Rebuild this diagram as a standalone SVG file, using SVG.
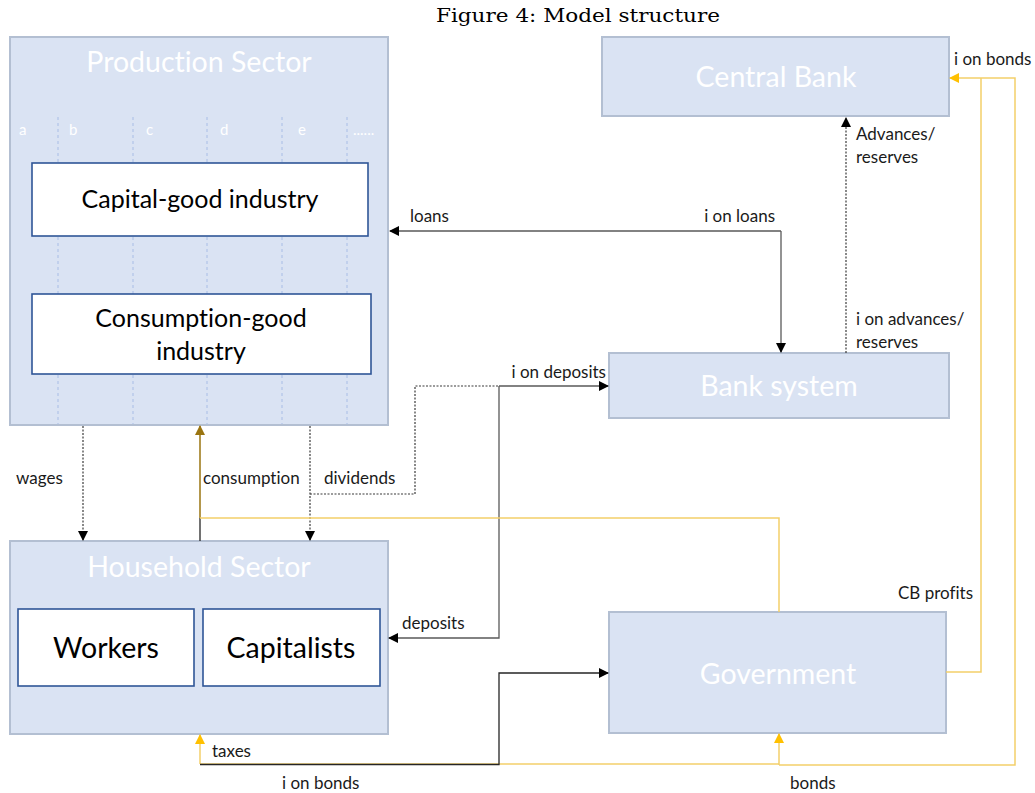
<svg xmlns="http://www.w3.org/2000/svg" width="1035" height="793" viewBox="0 0 1035 793">
  <defs>
    <style>
      text { font-variant-ligatures: none; }
      .sector { fill: #dae3f3; stroke: #b3bfd2; stroke-width: 2; }
      .inner { fill: #ffffff; stroke: #2f5597; stroke-width: 1.6; }
      .title { font-family: Lato, "Open Sans", sans-serif; fill: #ffffff; font-size: 28.5px; text-anchor: middle; }
      .col { font-family: Lato, "Open Sans", sans-serif; fill: #ffffff; font-size: 15px; }
      .colline { stroke: #a8bde6; stroke-width: 1; stroke-dasharray: 3 3; fill: none; }
      .big { font-family: Lato, "Open Sans", sans-serif; fill: #000000; font-size: 25px; text-anchor: middle; }
      .huge { font-family: Lato, "Open Sans", sans-serif; fill: #000000; font-size: 28.5px; text-anchor: middle; }
      .lbl { font-family: Lato, "Open Sans", sans-serif; fill: #1a1a1a; font-size: 17px; }
      .solid { fill: none; stroke: #595959; stroke-width: 1.3; }
      .dark { fill: none; stroke: #262626; stroke-width: 1.3; }
      .dot { fill: none; stroke: #3a3a3a; stroke-width: 1.2; stroke-dasharray: 2 1.5; }
      .gold { fill: none; stroke: #f3cf6a; stroke-width: 1.5; }
      .brown { fill: none; stroke: #9a7410; stroke-width: 1.5; }
    </style>
    <marker id="ah" viewBox="0 0 10 10" refX="9" refY="5" markerWidth="10" markerHeight="10" markerUnits="userSpaceOnUse" orient="auto">
      <path d="M0,0 L10,5 L0,10 z" fill="#000000"/>
    </marker>
    <marker id="ahGold" viewBox="0 0 10 10" refX="9" refY="5" markerWidth="10" markerHeight="10" markerUnits="userSpaceOnUse" orient="auto">
      <path d="M0,0 L10,5 L0,10 z" fill="#ffc000"/>
    </marker>
    <marker id="ahBrown" viewBox="0 0 10 10" refX="9" refY="5" markerWidth="10" markerHeight="10" markerUnits="userSpaceOnUse" orient="auto">
      <path d="M0,0 L10,5 L0,10 z" fill="#9a7410"/>
    </marker>
  </defs>

  <rect width="1035" height="793" fill="#ffffff"/>

  <text x="578" y="22" font-family="'DejaVu Serif', 'Liberation Serif', serif" font-size="19" text-anchor="middle" textLength="284" lengthAdjust="spacingAndGlyphs" fill="#000000">Figure 4:  Model structure</text>

  <!-- Production sector with industry columns -->
  <g id="production-sector">
    <rect class="sector" x="10" y="37" width="378" height="388"/>
    <text class="title" x="199" y="72">Production Sector</text>
    <text class="col" x="19" y="135">a</text>
    <text class="col" x="69" y="135">b</text>
    <text class="col" x="146" y="135">c</text>
    <text class="col" x="220" y="135">d</text>
    <text class="col" x="298" y="135">e</text>
    <text class="col" x="353" y="135">......</text>
    <path class="colline" d="M58,117 V424 M133,117 V424 M207,117 V424 M282,117 V424 M347,117 V424"/>
  </g>
  <g id="capital-good-industry">
    <rect class="inner" x="32" y="163" width="336" height="73"/>
    <text class="big" x="200" y="208">Capital-good industry</text>
  </g>
  <g id="consumption-good-industry">
    <rect class="inner" x="32" y="294" width="339" height="80"/>
    <text class="big" x="201" y="327">Consumption-good</text>
    <text class="big" x="201" y="360">industry</text>
  </g>

  <!-- Household sector -->
  <g id="household-sector">
    <rect class="sector" x="10" y="541" width="378" height="193"/>
    <text class="title" x="199" y="577">Household Sector</text>
  </g>
  <g id="workers">
    <rect class="inner" x="18" y="609" width="176" height="77"/>
    <text class="huge" x="106" y="658">Workers</text>
  </g>
  <g id="capitalists">
    <rect class="inner" x="203" y="609" width="177" height="77"/>
    <text class="huge" x="291" y="658">Capitalists</text>
  </g>

  <!-- Banks and government -->
  <g id="central-bank">
    <rect class="sector" x="602" y="37" width="347" height="79"/>
    <text class="title" x="776" y="87">Central Bank</text>
  </g>
  <g id="bank-system">
    <rect class="sector" x="609" y="353" width="340" height="65"/>
    <text class="title" x="779" y="396">Bank system</text>
  </g>
  <g id="government">
    <rect class="sector" x="609" y="612" width="337" height="121"/>
    <text class="title" x="778" y="684">Government</text>
  </g>

  <!-- Flows between sectors -->
  <g id="connectors">
    <!-- loans / interest on loans -->
    <path class="solid" d="M781,231 H390" marker-end="url(#ah)"/>
    <path class="solid" d="M781,231 V352" marker-end="url(#ah)"/>
    <!-- advances / reserves -->
    <path class="dot" d="M846,353 V118" marker-end="url(#ah)"/>
    <!-- wages -->
    <path class="dot" d="M83,426 V540" marker-end="url(#ah)"/>
    <!-- dividends -->
    <path class="dot" d="M310,426 V540" marker-end="url(#ah)"/>
    <path class="dot" d="M310,494 H415 V386 H499"/>
    <!-- deposits / interest on deposits -->
    <path class="solid" d="M499,386 H608" marker-end="url(#ah)"/>
    <path class="solid" d="M499,386 V638 H389" marker-end="url(#ah)"/>
    <!-- consumption -->
    <path class="dark" d="M200,541 V518"/>
    <path class="brown" d="M200,518 V426" marker-end="url(#ahBrown)"/>
    <path class="gold" d="M200,518 H779 V612"/>
    <!-- taxes and bonds -->
    <path class="gold" d="M200,764 H779"/>
    <path class="gold" d="M200,764 V735" marker-end="url(#ahGold)"/>
    <path class="gold" d="M779,765 V734" marker-end="url(#ahGold)"/>
    <path class="dark" d="M200,764.5 H499 V673 H608" marker-end="url(#ah)"/>
    <!-- bonds held by the central bank and its profits -->
    <path class="gold" d="M779,765 H1015 V78 H950" marker-end="url(#ahGold)"/>
    <path class="gold" d="M946,672 H981 V78"/>
  </g>

  <!-- Flow labels -->
  <g id="labels">
    <text class="lbl" x="410" y="222">loans</text>
    <text class="lbl" x="775" y="222" text-anchor="end">i on loans</text>
    <text class="lbl" x="856" y="140">Advances/</text>
    <text class="lbl" x="856" y="163">reserves</text>
    <text class="lbl" x="856" y="325">i on advances/</text>
    <text class="lbl" x="856" y="348">reserves</text>
    <text class="lbl" x="606" y="378" text-anchor="end">i on deposits</text>
    <text class="lbl" x="16" y="484">wages</text>
    <text class="lbl" x="203" y="484">consumption</text>
    <text class="lbl" x="324" y="484">dividends</text>
    <text class="lbl" x="402" y="629">deposits</text>
    <text class="lbl" x="898" y="599">CB profits</text>
    <text class="lbl" x="954" y="65">i on bonds</text>
    <text class="lbl" x="212" y="757">taxes</text>
    <text class="lbl" x="282" y="789">i on bonds</text>
    <text class="lbl" x="790" y="789">bonds</text>
  </g>
</svg>
